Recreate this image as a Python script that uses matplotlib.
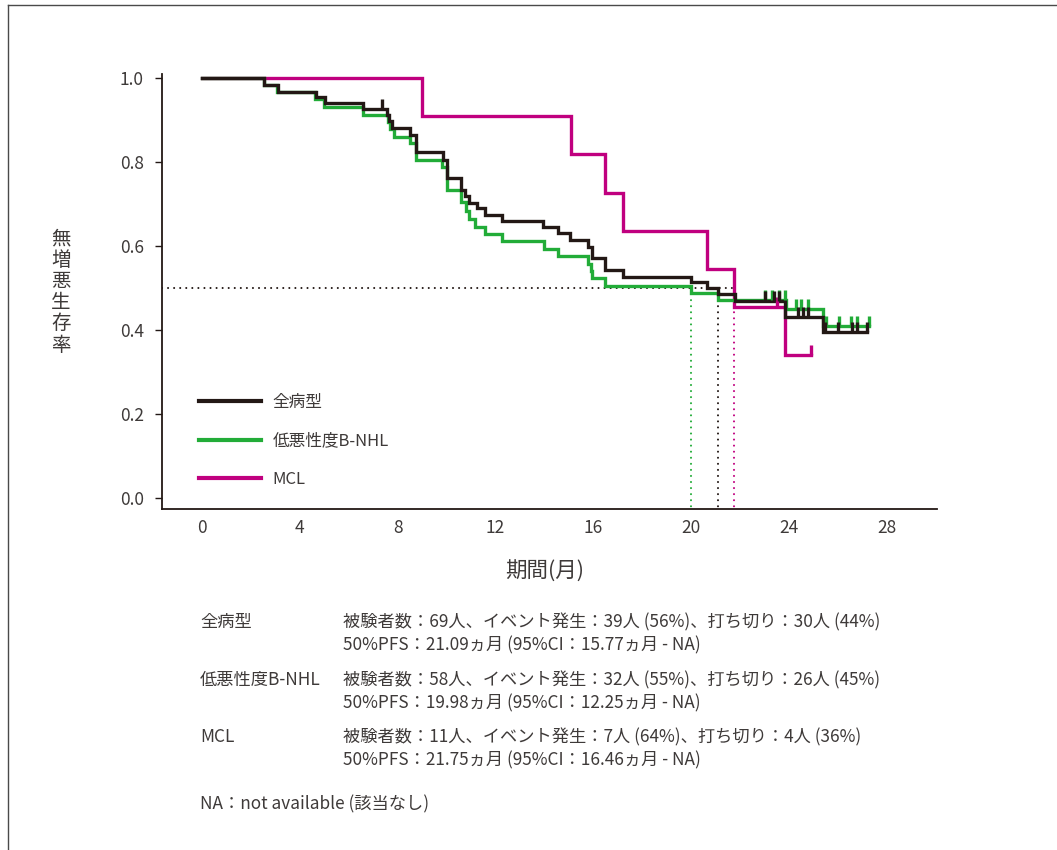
import numpy as np
import matplotlib
matplotlib.use('Agg')
import matplotlib.pyplot as plt
from matplotlib.lines import Line2D

plt.rcParams['font.family'] = ['Noto Sans CJK JP', 'DejaVu Sans']

# ---------------- data ----------------
series_names = ['全病型', '低悪性度B-NHL', 'MCL']

all_event_t = [2.53, 3.1, 4.66, 5.03, 6.6, 7.55, 7.65, 7.78, 8.5, 8.75, 9.84, 10.0,
               10.6, 10.75, 10.9, 11.23, 11.57, 12.25, 13.95, 14.57, 15.05, 15.8,
               15.93, 16.48, 17.23, 20.0, 20.66, 21.09, 21.8, 23.83, 25.4]
all_event_s = [0.983, 0.967, 0.954, 0.94, 0.926, 0.912, 0.897, 0.88, 0.864, 0.825,
               0.805, 0.761, 0.733, 0.72, 0.703, 0.69, 0.675, 0.66, 0.646, 0.63,
               0.614, 0.598, 0.571, 0.543, 0.527, 0.514, 0.501, 0.486, 0.470,
               0.432, 0.396]
all_censor_t = [7.35, 23.0, 23.4, 23.6, 24.37, 24.57, 24.78, 25.47, 26.0, 26.57,
                26.78, 27.2]
all_end = 27.2

bnhl_event_t = [2.53, 3.08, 4.62, 5.0, 6.6, 7.6, 7.7, 7.85, 8.5, 8.75, 9.8, 10.0,
                10.6, 10.8, 10.9, 11.16, 11.57, 12.25, 13.98, 14.54, 15.8, 15.89,
                15.93, 16.48, 19.98, 21.08, 23.87, 25.4]
bnhl_event_s = [0.983, 0.966, 0.949, 0.93, 0.913, 0.895, 0.878, 0.86, 0.845, 0.805,
                0.789, 0.733, 0.704, 0.684, 0.664, 0.646, 0.629, 0.612, 0.593,
                0.576, 0.558, 0.541, 0.523, 0.506, 0.489, 0.471, 0.449, 0.41]
bnhl_censor_t = [23.0, 23.3, 23.6, 23.85, 24.3, 24.5, 24.78, 25.5, 26.05, 26.53,
                 26.76, 27.27]
bnhl_end = 27.27

mcl_event_t = [9.0, 15.08, 16.46, 17.23, 20.66, 21.75, 23.83]
mcl_event_s = [0.909, 0.818, 0.727, 0.636, 0.545, 0.4545, 0.341]
mcl_censor_t = [23.5, 24.88]
mcl_end = 24.88

medians = [21.09, 19.98, 21.75]

colors = ['#231815', '#22ac38', '#c0007f']

x_ticks = [0, 4, 8, 12, 16, 20, 24, 28]
y_ticks = [0.0, 0.2, 0.4, 0.6, 0.8, 1.0]

note_labels = ['全病型', '低悪性度B-NHL', 'MCL']
note_lines = [
    ['被験者数：69人、イベント発生：39人 (56%)、打ち切り：30人 (44%)',
     '50%PFS：21.09ヵ月 (95%CI：15.77ヵ月 - NA)'],
    ['被験者数：58人、イベント発生：32人 (55%)、打ち切り：26人 (45%)',
     '50%PFS：19.98ヵ月 (95%CI：12.25ヵ月 - NA)'],
    ['被験者数：11人、イベント発生：7人 (64%)、打ち切り：4人 (36%)',
     '50%PFS：21.75ヵ月 (95%CI：16.46ヵ月 - NA)'],
]
na_note = 'NA：not available (該当なし)'

# ---------------- figure ----------------
W, H = 1057, 850
fig = plt.figure(figsize=(W / 100, H / 100), dpi=100)

def fx(x):
    return x / W

def fy(y):
    return 1 - y / H

ax = fig.add_axes([fx(162), fy(509), fx(937) - fx(162), fy(74) - fy(509)])
ax.set_xlim(-1.63, 30.05)
ax.set_ylim(-0.026, 1.0095)

text_col = '#3e3a39'
lw = 2.4

series = [
    (all_event_t, all_event_s, all_censor_t, all_end),
    (bnhl_event_t, bnhl_event_s, bnhl_censor_t, bnhl_end),
    (mcl_event_t, mcl_event_s, mcl_censor_t, mcl_end),
]

# median reference lines
ax.plot([ax.get_xlim()[0], max(medians)], [0.5, 0.5], color=colors[0], lw=1.5,
        linestyle=(0, (0.01, 2.9)), dash_capstyle='round', zorder=1)
for m, c in zip(medians, colors):
    ax.plot([m, m], [0.5, ax.get_ylim()[0]], color=c, lw=1.5,
            linestyle=(0, (0.01, 2.9)), dash_capstyle='round', zorder=1)

tick_marker = [(0, 0), (0, 1)]
draw_order = [2, 1, 0]
zs = {0: 4, 1: 3, 2: 2}
for i in draw_order:
    et, es, ct, end = series[i]
    times = np.array([0.0] + list(et) + [end])
    surv = np.array([1.0] + list(es) + [es[-1]])
    ax.step(times, surv, where='post', color=colors[i], lw=lw, zorder=zs[i],
            solid_joinstyle='miter')
    idx = np.searchsorted(times, np.array(ct), side='right') - 1
    cs = surv[idx]
    ax.plot(ct, cs, linestyle='none', marker=tick_marker, markersize=14,
            markeredgewidth=2.4, markeredgecolor=colors[i], zorder=zs[i] + 3)

# axes styling
for s in ['top', 'right']:
    ax.spines[s].set_visible(False)
for s in ['left', 'bottom']:
    ax.spines[s].set_color('#231815')
    ax.spines[s].set_linewidth(1.3)
ax.set_xticks(x_ticks)
ax.set_xticklabels([str(v) for v in x_ticks])
ax.set_yticks(y_ticks)
ax.set_yticklabels([f'{v:.1f}' for v in y_ticks])
ax.tick_params(axis='x', length=0, pad=7, labelsize=12.5, labelcolor=text_col)
ax.tick_params(axis='y', length=5, width=1.0, pad=8, labelsize=12.5,
               labelcolor=text_col, color='#231815')

# legend
handles = [Line2D([], [], color=c, lw=3.0) for c in colors]
leg = ax.legend(handles, series_names, loc='upper left', frameon=False,
                fontsize=12, handlelength=3.7, handletextpad=0.7,
                labelspacing=1.28, borderpad=0, borderaxespad=0,
                bbox_to_anchor=(fx(199), fy(394)), bbox_transform=fig.transFigure)
for t in leg.get_texts():
    t.set_color(text_col)

# axis labels
fig.text(fx(545), fy(572), '期間(月)', ha='center', va='center', fontsize=15.5,
         color=text_col)
fig.text(fx(61), fy(292), '\n'.join('無増悪生存率'), ha='center', va='center',
         fontsize=14, color=text_col, linespacing=1.02)

# notes
note_fs = 12.4
rows_y = [(622, 645), (680, 703), (737, 760)]
for lab, lines, (y1, y2) in zip(note_labels, note_lines, rows_y):
    fig.text(fx(200), fy(y1), lab, ha='left', va='center', fontsize=note_fs, color=text_col)
    fig.text(fx(343), fy(y1), lines[0], ha='left', va='center', fontsize=note_fs, color=text_col)
    fig.text(fx(343), fy(y2), lines[1], ha='left', va='center', fontsize=note_fs, color=text_col)
fig.text(fx(200), fy(804), na_note, ha='left', va='center', fontsize=note_fs, color=text_col)

# page frame (top and left edges)
fig.add_artist(Line2D([fx(8), 1.0], [fy(5), fy(5)], transform=fig.transFigure,
                      color='#4a4a4a', lw=1.0))
fig.add_artist(Line2D([fx(8), fx(8)], [fy(5), 0.0], transform=fig.transFigure,
                      color='#4a4a4a', lw=1.0))

fig.savefig('out.png', dpi=100)
